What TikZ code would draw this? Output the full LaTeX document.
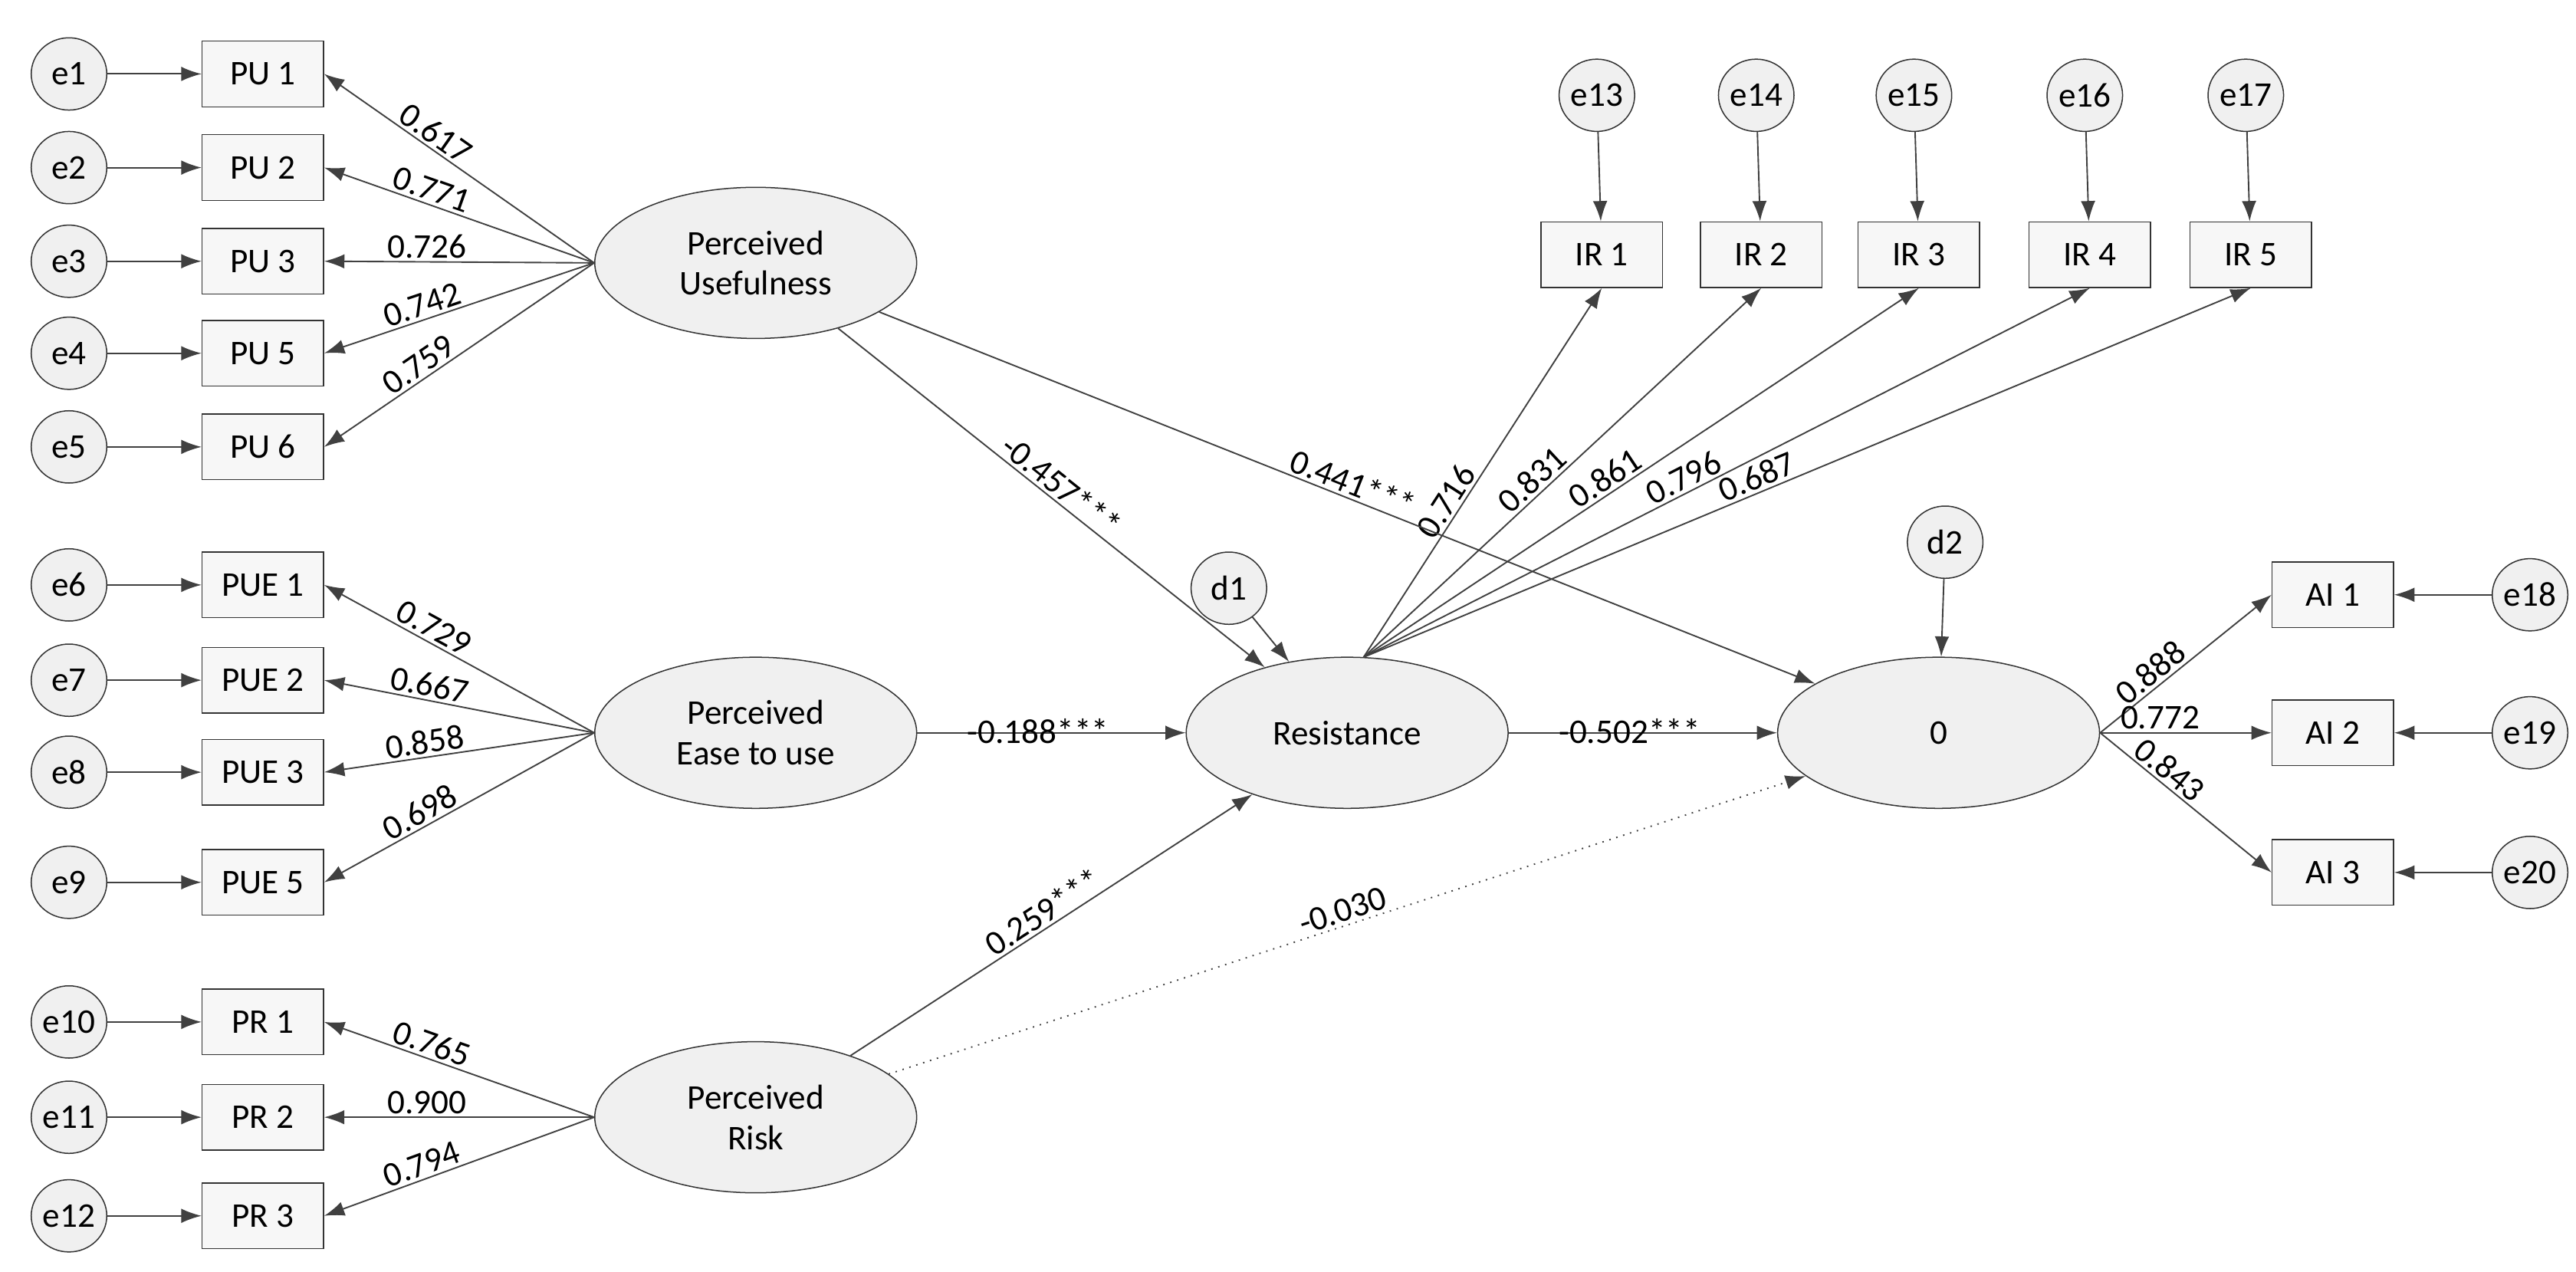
\documentclass[tikz,border=0pt]{standalone}
\usepackage{fontspec}
\setmainfont{Carlito}
\usetikzlibrary{shapes.geometric,arrows.meta}
\tikzset{
  err/.style={ellipse,draw=black!80,fill=gray!12,minimum width=0.92cm,minimum height=0.88cm,inner sep=0pt},
  item/.style={rectangle,draw=black!80,fill=gray!6,minimum width=1.48cm,minimum height=0.8cm,inner sep=1pt},
  latent/.style={ellipse,draw=black!80,fill=gray!12,minimum width=3.92cm,minimum height=1.84cm,align=center,inner sep=0pt},
  path/.style={-{Latex[length=7pt,width=5pt]},draw=black!75,line width=0.5pt},
  coef/.style={sloped,above,inner sep=1pt,font=\fontsize{12}{14}\selectfont}
}
\begin{document}
\begin{tikzpicture}[x=0.02cm,y=-0.02cm,font=\fontsize{12}{14}\selectfont]
\useasboundingbox (0,0) rectangle (1568,774);
% measurement items
\foreach \n/\lab/\e/\y in {pu1/PU 1/e1/45,pu2/PU 2/e2/102,pu3/PU 3/e3/159,pu5/PU 5/e4/215,pu6/PU 6/e5/272,
  pue1/PUE 1/e6/356,pue2/PUE 2/e7/414,pue3/PUE 3/e8/470,pue5/PUE 5/e9/537,
  pr1/PR 1/e10/622,pr2/PR 2/e11/680,pr3/PR 3/e12/740}{
  \node[item] (\n) at (160,\y) {\lab};
  \node[err] (\e) at (42,\y) {\e};
  \draw[path] (\e) -- (\n);
}
\foreach \n/\lab/\e/\x in {ir1/IR 1/e13/975,ir2/IR 2/e14/1072,ir3/IR 3/e15/1168,ir4/IR 4/e16/1272,ir5/IR 5/e17/1370}{
  \node[item] (\n) at (\x,155) {\lab};
  \node[err] (\e) at (\x-3,58) {\e};
  \draw[path] (\e) -- (\n);
}
\foreach \n/\lab/\e/\y in {ai1/AI 1/e18/362,ai2/AI 2/e19/446,ai3/AI 3/e20/531}{
  \node[item] (\n) at (1420,\y) {\lab};
  \node[err] (\e) at (1540,\y) {\e};
  \draw[path] (\e) -- (\n);
}
% constructs
\node[latent] (pu) at (460,160) {Perceived\\Usefulness};
\node[latent] (peu) at (460,446) {Perceived\\Ease to use};
\node[latent] (pr) at (460,680) {Perceived\\Risk};
\node[latent] (res) at (820,446) {Resistance};
\node[latent] (ai) at (1180,446) {0};
\node[err] (d1) at (748,358) {d1};
\node[err] (d2) at (1184,330) {d2};
\draw[path] (d1) -- (res);
\draw[path] (d2) -- (ai);
% loadings
\foreach \t/\v in {pu1/0.617,pu2/0.771,pu3/0.726,pu5/0.742,pu6/0.759}
  \draw[path] (pu.west) -- (\t.east) node[coef,pos=0.62] {\v};
\foreach \t/\v in {pue1/0.729,pue2/0.667,pue3/0.858,pue5/0.698}
  \draw[path] (peu.west) -- (\t.east) node[coef,pos=0.62] {\v};
\foreach \t/\v in {pr1/0.765,pr2/0.900,pr3/0.794}
  \draw[path] (pr.west) -- (\t.east) node[coef,pos=0.62] {\v};
\coordinate (restop) at (830,400);
\foreach \t/\v/\p in {ir1/0.716/0.4,ir2/0.831/0.45,ir3/0.861/0.45,ir4/0.796/0.45,ir5/0.687/0.45}
  \draw[path] (restop) -- (\t.south) node[coef,pos=\p] {\v};
\foreach \t/\v in {ai1/0.888,ai2/0.772,ai3/0.843}
  \draw[path] (ai.east) -- (\t.west) node[coef,pos=0.35] {\v};
% structural paths
\draw[path] (pu) -- (res) node[coef,pos=0.5] {-0.457***};
\draw[path] (pu) -- (ai) node[coef,pos=0.5] {0.441***};
\draw[path] (peu) -- (res) node[coef,pos=0.45,below=-6pt] {-0.188***};
\draw[path] (pr) -- (res) node[coef,pos=0.5] {0.259***};
\draw[path] (res) -- (ai) node[coef,pos=0.45,below=-6pt] {-0.502***};
\draw[path,dotted] (pr) -- (ai) node[coef,pos=0.5] {-0.030};
\end{tikzpicture}
\end{document}
